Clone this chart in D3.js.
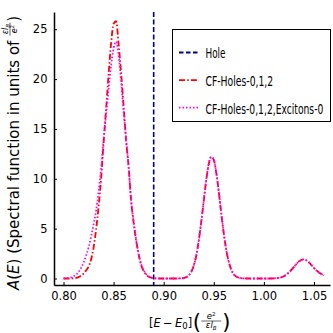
<!DOCTYPE html>
<html>
<head>
<meta charset="utf-8">
<script src="https://cdn.jsdelivr.net/npm/d3@7"></script>
<style>
  html, body { margin: 0; padding: 0; background: #fff; }
  svg { display: block; font-family: "DejaVu Sans", sans-serif; }
</style>
</head>
<body>
<svg id="chart" width="333" height="333"></svg>
<script>
// energy grid (x)
var energy = [
  0.8000, 0.8025, 0.8050, 0.8075, 0.8100, 0.8125, 0.8150, 0.8175, 0.8200, 0.8225,
  0.8250, 0.8275, 0.8300, 0.8325, 0.8350, 0.8375, 0.8400, 0.8425, 0.8450, 0.8475,
  0.8500, 0.8525, 0.8550, 0.8575, 0.8600, 0.8625, 0.8650, 0.8675, 0.8700, 0.8725,
  0.8750, 0.8775, 0.8800, 0.8825, 0.8850, 0.8875, 0.8900, 0.8925, 0.8950, 0.8975,
  0.9000, 0.9025, 0.9050, 0.9075, 0.9100, 0.9125, 0.9150, 0.9175, 0.9200, 0.9225,
  0.9250, 0.9275, 0.9300, 0.9325, 0.9350, 0.9375, 0.9400, 0.9425, 0.9450, 0.9475,
  0.9500, 0.9525, 0.9550, 0.9575, 0.9600, 0.9625, 0.9650, 0.9675, 0.9700, 0.9725,
  0.9750, 0.9775, 0.9800, 0.9850, 0.9900, 0.9950, 1.0000, 1.0050, 1.0100, 1.0150,
  1.0200, 1.0250, 1.0300, 1.0350, 1.0400, 1.0450, 1.0500, 1.0550, 1.0600
];

// CF-Holes-0,1,2
var cfHoles = [
  0, 0, 0, 0.01, 0.03, 0.06, 0.14, 0.28, 0.50, 0.80,
  1.20, 1.90, 3.10, 4.90, 7.20, 10.0, 13.6, 17.0, 20.5, 23.6,
  25.55, 25.8, 23.5, 20.6, 17.3, 13.8, 11.2, 7.8, 5.6, 3.8,
  2.4, 1.35, 0.75, 0.38, 0.18, 0.08, 0.03, 0.01, 0, 0,
  0, 0, 0, 0, 0, 0, 0.01, 0.02, 0.05, 0.14,
  0.31, 0.66, 1.30, 2.30, 3.80, 5.70, 7.80, 9.90, 11.5, 12.2,
  11.9, 10.6, 8.70, 6.50, 4.50, 2.85, 1.65, 0.88, 0.43, 0.19,
  0.08, 0.03, 0.01, 0, 0, 0, 0, 0, 0.02, 0.07,
  0.23, 0.60, 1.16, 1.72, 1.92, 1.62, 1.06, 0.60, 0.32
];

// CF-Holes-0,1,2,Excitons-0
var cfHolesExcitons = [
  0.02, 0.03, 0.06, 0.12, 0.22, 0.38, 0.65, 1.05, 1.60, 2.30,
  3.10, 4.20, 5.40, 6.80, 8.70, 11.0, 13.9, 16.5, 19.0, 21.4,
  23.1, 23.75, 22.4, 19.8, 16.7, 14.0, 11.2, 7.8, 5.7, 3.9,
  2.5, 1.45, 0.85, 0.45, 0.22, 0.10, 0.04, 0.02, 0.01, 0,
  0, 0, 0, 0, 0, 0, 0.01, 0.02, 0.05, 0.14,
  0.31, 0.66, 1.30, 2.30, 3.80, 5.70, 7.80, 9.90, 11.5, 12.2,
  11.9, 10.6, 8.70, 6.50, 4.50, 2.85, 1.65, 0.88, 0.43, 0.19,
  0.08, 0.03, 0.01, 0, 0, 0, 0, 0, 0.02, 0.07,
  0.23, 0.60, 1.16, 1.72, 1.92, 1.62, 1.06, 0.60, 0.32
];

// Hole energy (vertical line)
var holeEnergy = [0.89];

var xTicks = [0.80, 0.85, 0.90, 0.95, 1.00, 1.05];
var yTicks = [0, 5, 10, 15, 20, 25];
var legendLabels = ["Hole", "CF-Holes-0,1,2", "CF-Holes-0,1,2,Excitons-0"];

var svg = d3.select("#chart");

var xScale = d3.scaleLinear().domain([0.7905, 1.066]).range([54, 330]);
var yScale = d3.scaleLinear().domain([-0.65, 26.73]).range([285, 12]);

// axes, ticks point inward
var xAxis = d3.axisBottom(xScale)
  .tickValues(xTicks)
  .tickFormat(d3.format(".2f"))
  .tickSizeInner(-3)
  .tickSizeOuter(0)
  .tickPadding(7);
var yAxis = d3.axisLeft(yScale)
  .tickValues(yTicks)
  .tickFormat(d3.format("d"))
  .tickSizeInner(-3)
  .tickSizeOuter(0)
  .tickPadding(6.5);

var gx = svg.append("g").attr("transform", "translate(0,285)").call(xAxis);
var gy = svg.append("g").attr("transform", "translate(54,0)").call(yAxis);
[gx, gy].forEach(function (g) {
  g.select(".domain").attr("stroke", "#000").attr("stroke-width", 1.5);
  g.selectAll(".tick line").attr("stroke", "#000").attr("stroke-width", 1);
  g.selectAll(".tick text")
    .attr("font-family", "DejaVu Sans, sans-serif")
    .attr("font-size", 11.5)
    .attr("fill", "#000");
});

// series
var line = d3.line()
  .x(function (d, i) { return xScale(energy[i]); })
  .y(function (d) { return yScale(d); })
  .curve(d3.curveMonotoneX);

svg.selectAll(".hole")
  .data(holeEnergy)
  .enter()
  .append("line")
  .attr("class", "hole")
  .attr("x1", function (d) { return xScale(d); })
  .attr("x2", function (d) { return xScale(d); })
  .attr("y1", yScale(26.73))
  .attr("y2", yScale(-0.65))
  .attr("stroke", "#00008b")
  .attr("stroke-width", 1.6)
  .attr("stroke-dasharray", "5,2.5");

svg.append("path")
  .datum(cfHoles)
  .attr("d", line)
  .attr("fill", "none")
  .attr("stroke", "#ff0000")
  .attr("stroke-width", 1.8)
  .attr("stroke-dasharray", "6,2.2,1.5,2.2");

svg.append("path")
  .datum(cfHolesExcitons)
  .attr("d", line)
  .attr("fill", "none")
  .attr("stroke", "#ff00ff")
  .attr("stroke-width", 1.8)
  .attr("stroke-dasharray", "1.5,2");

// legend
var legendStyles = [
  { color: "#00008b", dash: "4.5,2.5" },
  { color: "#ff0000", dash: "6,2.2,1.5,2.2" },
  { color: "#ff00ff", dash: "1.5,2" }
];
var legendWidths = [20, 67.7, 118];

var legend = svg.append("g");
legend.append("rect")
  .attr("x", 172.5)
  .attr("y", 29.5)
  .attr("width", 158)
  .attr("height", 92)
  .attr("fill", "#fff")
  .attr("stroke", "#000")
  .attr("stroke-width", 1);

legendLabels.forEach(function (label, i) {
  var ly = 52.5 + i * 27.6;
  legend.append("line")
    .attr("x1", 179).attr("x2", 198.5)
    .attr("y1", ly).attr("y2", ly)
    .attr("stroke", legendStyles[i].color)
    .attr("stroke-width", 1.8)
    .attr("stroke-dasharray", legendStyles[i].dash);
  // narrow font: squeeze the text horizontally
  var tg = legend.append("g");
  var t = tg.append("text")
    .attr("x", 0)
    .attr("y", 0)
    .attr("font-size", 14.5)
    .text(label);
  var w = t.node().getComputedTextLength();
  tg.attr("transform", "translate(205.5," + (ly + 5.8) + ") scale(" + (legendWidths[i] / w) + ",1)");
});

// y label: A(E) (Spectral function in units of εl_B/e²)
var yLab = svg.append("g").attr("transform", "translate(19,290) rotate(-90)");
var yMain = yLab.append("text").attr("x", 0).attr("y", 0).attr("font-size", 15);
yMain.append("tspan").attr("font-style", "italic").text("A");
yMain.append("tspan").text("(");
yMain.append("tspan").attr("font-style", "italic").text("E");
yMain.append("tspan").text(") (Spectral function in units of");
var yLen = yMain.node().getComputedTextLength() + 5;
var yfw = 13;
var yNum = yLab.append("text")
  .attr("x", yLen + yfw / 2).attr("y", -11)
  .attr("text-anchor", "middle").attr("font-size", 8);
yNum.append("tspan").attr("font-style", "italic").text("εl");
yNum.append("tspan").attr("font-size", 5.5).attr("dy", 1.5).attr("font-style", "italic").text("B");
yLab.append("line")
  .attr("x1", yLen).attr("x2", yLen + yfw)
  .attr("y1", -9).attr("y2", -9)
  .attr("stroke", "#000").attr("stroke-width", 0.6);
var yDen = yLab.append("text")
  .attr("x", yLen + yfw / 2).attr("y", -2)
  .attr("text-anchor", "middle").attr("font-size", 8);
yDen.append("tspan").attr("font-style", "italic").text("e");
yDen.append("tspan").attr("font-size", 5.5).attr("dy", -3).text("2");
yLab.append("text")
  .attr("x", yLen + yfw + 1).attr("y", 0)
  .attr("font-size", 15)
  .text(")");

// x label: [E − E0](e²/εl_B)
var xLab = svg.append("g");
var xMain = xLab.append("text").attr("x", 149).attr("y", 326.5).attr("font-size", 11.5);
xMain.append("tspan").text("[");
xMain.append("tspan").attr("font-style", "italic").text("E");
xMain.append("tspan").text("\u2009\u2212\u2009");
xMain.append("tspan").attr("font-style", "italic").text("E");
xMain.append("tspan").attr("font-size", 8.5).attr("dy", 2).text("0");
xMain.append("tspan").attr("dy", -2).text("]");
var xEnd = 149 + xMain.node().getComputedTextLength();
xLab.append("text").attr("x", xEnd + 0.5).attr("y", 329).attr("font-size", 21).text("(");
var xfw = 20;
var xf0 = xEnd + 9;
var xNum = xLab.append("text")
  .attr("x", xf0 + xfw / 2).attr("y", 318.5)
  .attr("text-anchor", "middle").attr("font-size", 8.5);
xNum.append("tspan").attr("font-style", "italic").text("e");
xNum.append("tspan").attr("font-size", 5.5).attr("dy", -3).text("2");
xLab.append("line")
  .attr("x1", xf0).attr("x2", xf0 + xfw)
  .attr("y1", 321).attr("y2", 321)
  .attr("stroke", "#000").attr("stroke-width", 0.6);
var xDen = xLab.append("text")
  .attr("x", xf0 + xfw / 2).attr("y", 328)
  .attr("text-anchor", "middle").attr("font-size", 8.5);
xDen.append("tspan").attr("font-style", "italic").text("εl");
xDen.append("tspan").attr("font-size", 5.5).attr("dy", 1.5).attr("font-style", "italic").text("B");
xLab.append("text").attr("x", xf0 + xfw + 1).attr("y", 329).attr("font-size", 21).text(")");
</script>
</body>
</html>
